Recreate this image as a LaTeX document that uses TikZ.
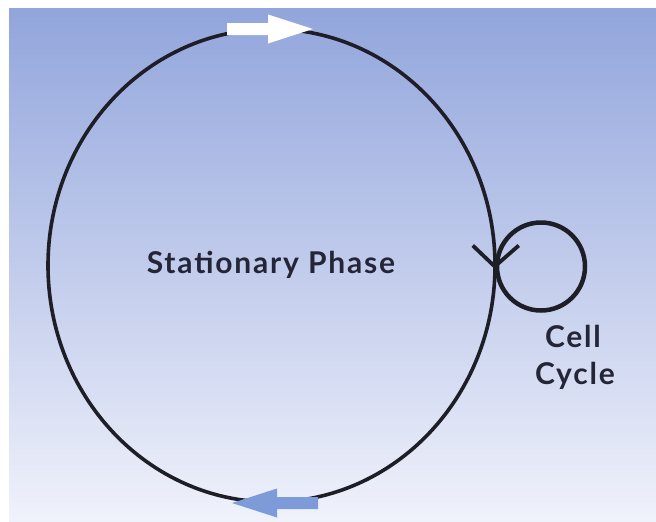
\documentclass[tikz,border=0pt]{standalone}
\usepackage{fontspec}
\setmainfont{Lato}
\newfontfamily\labelfont[LetterSpace=6]{Lato}
\usetikzlibrary{shapes.geometric}
\definecolor{bgtop}{RGB}{146,165,220}
\definecolor{bgmid}{RGB}{192,203,234}
\definecolor{bgbot}{RGB}{240,242,251}
\definecolor{ink}{RGB}{30,30,38}
\definecolor{labelink}{RGB}{36,38,56}
\definecolor{arrowblue}{RGB}{124,155,216}
\tikzset{
  cycleline/.style={draw=ink, line width=3.6pt},
  loopline/.style={draw=ink, line width=4.5pt},
  label/.style={font=\labelfont\bfseries\fontsize{30}{36}\selectfont, text=labelink, inner sep=0pt},
  % block arrow pointing along +x, drawn around its centre
  flowarrow/.pic={
    \fill (-43,-6) -- (-2,-6) -- (-2,-14.5) -- (43,0) -- (-2,14.5) -- (-2,6) -- (-43,6) -- cycle;
  },
}
\begin{document}
\begin{tikzpicture}[x=1pt,y=-1pt]
  \useasboundingbox (0,0) rectangle (656,522);
  \fill[white] (0,0) rectangle (656,522);
  % graded backdrop
  \shade[top color=bgtop, middle color=bgmid, bottom color=bgbot] (9,8) rectangle (656,522);

  % large loop: stationary phase
  \node[ellipse, cycleline, minimum width=447pt, minimum height=473pt, inner sep=0pt]
    (stationary) at (271.5,265.5) {};
  % small loop: cell cycle
  \node[circle, loopline, minimum size=88pt, inner sep=0pt] (cellcycle) at (541,266.5) {};

  % direction arrows on the large loop
  \pic[fill=white] (toparrow) at (270,29) {flowarrow};
  \pic[fill=arrowblue, rotate=180] (botarrow) at (275,503) {flowarrow};

  % open tip where the two loops meet
  \coordinate (junction) at (cellcycle.west);
  \draw[loopline, line width=3.8pt, line join=miter] ([shift={(-22,-21)}]junction) -- (junction) -- ([shift={(24,-21)}]junction);

  % labels
  \node[label, anchor=base] (stlabel) at (271,273) {Stationary Phase};
  \node[label, anchor=base] (celllabel) at (573,347) {Cell};
  \node[label, anchor=base] (cyclelabel) at (575,384) {Cycle};
\end{tikzpicture}
\end{document}
